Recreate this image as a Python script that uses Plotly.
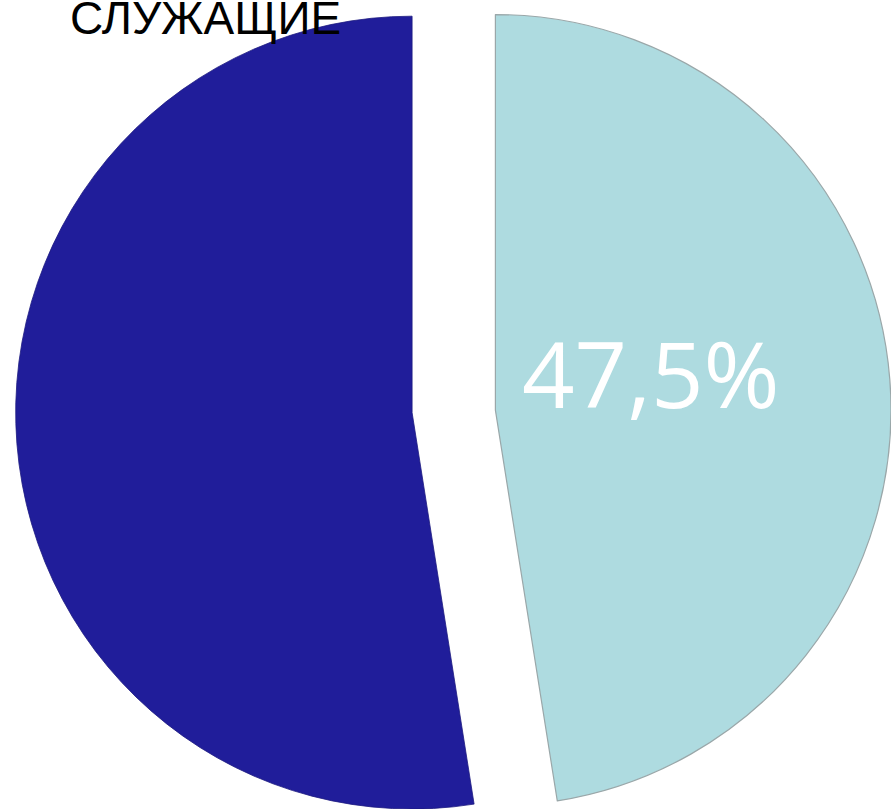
import plotly.graph_objects as go

categories = ["Служащие (доля)", "Прочие"]
values = [47.5, 52.5]
title_text = "СЛУЖАЩИЕ"
colors = ["#aedbe0", "#201d9a"]

W, H = 891, 809

fig = go.Figure()

# light slice (own domain, shifted right)
fig.add_trace(go.Pie(
    labels=categories, values=values, sort=False, direction="clockwise", rotation=0,
    marker=dict(colors=[colors[0], "rgba(0,0,0,0)"],
                line=dict(color=["#9aa7a9", "rgba(0,0,0,0)"], width=[1.2, 0])),
    textinfo="none", hoverinfo="label+percent", showlegend=False,
    domain=dict(x=[0.112, 1.0], y=[0.0, 0.986]),
))
# dark slice (own domain, shifted left)
fig.add_trace(go.Pie(
    labels=categories, values=values, sort=False, direction="clockwise", rotation=0,
    marker=dict(colors=["rgba(0,0,0,0)", colors[1]],
                line=dict(color=["rgba(0,0,0,0)", "#1d1a80"], width=[0, 0.8])),
    textinfo="none", hoverinfo="label+percent", showlegend=False,
    domain=dict(x=[0.017, 0.908], y=[0.0, 0.98]),
))

label = f"{values[0]:.1f}%".replace(".", ",")
fig.add_annotation(
    text=label, x=651 / W, y=1 - 372 / H, xref="paper", yref="paper",
    xanchor="center", yanchor="middle", showarrow=False,
    font=dict(family="Open Sans", size=92, color="white"),
)
fig.add_annotation(
    text=title_text, x=68 / W, y=1 - 18 / H, xref="paper", yref="paper",
    xanchor="left", yanchor="middle", showarrow=False,
    font=dict(family="Liberation Sans", size=46, color="black"),
)

fig.update_layout(
    width=W, height=H, margin=dict(l=0, r=0, t=0, b=0),
    paper_bgcolor="white", plot_bgcolor="white",
)

fig.write_html("out.html", config={"displayModeBar": False},
               post_script="document.body.style.margin='0';")
